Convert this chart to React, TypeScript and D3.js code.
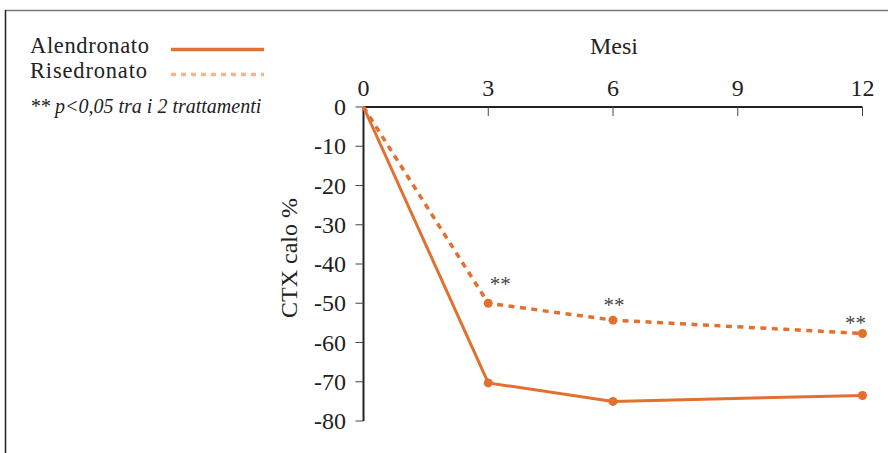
import React from "react";
import * as d3 from "d3";

const months = [0, 3, 6, 12];
const alendronato = [0, -70.3, -75, -73.5];
const risedronato = [0, -50, -54.3, -57.7];
const xTicks = [0, 3, 6, 9, 12];
const yTicks = [0, -10, -20, -30, -40, -50, -60, -70, -80];
const sigMonths = [3, 6, 12];

const ORANGE = "#e2702f";
const FONT = "'Liberation Serif', 'Times New Roman', serif";

export default function App() {
  const x = d3.scaleLinear().domain([0, 12]).range([363.5, 862.5]);
  const y = d3.scaleLinear().domain([0, -80]).range([107, 421]);
  const line = d3
    .line<number>()
    .x((_, i) => x(months[i]))
    .y((d) => y(d));
  const sigOffsets: Record<number, [number, number]> = { 3: [12, -12], 6: [1, -8], 12: [-7, -3] };
  return (
    <svg width={888} height={453} style={{ position: "absolute", left: 0, top: 0, background: "#fff" }}>
      <line x1={5} y1={10.5} x2={888} y2={10.5} stroke="#777" strokeWidth={1.5} />
      <line x1={5.5} y1={10} x2={5.5} y2={453} stroke="#222" strokeWidth={1.5} />

      {/* legend */}
      <text x={30} y={53} fontFamily={FONT} fontSize={22.5} textLength={119} lengthAdjust="spacing" fill="#222">Alendronato</text>
      <text x={30} y={78} fontFamily={FONT} fontSize={22.5} textLength={117} lengthAdjust="spacing" fill="#222">Risedronato</text>
      <line x1={171} x2={264} y1={49.5} y2={49.5} stroke={ORANGE} strokeWidth={3.5} />
      <line x1={171} x2={264} y1={74.5} y2={74.5} stroke="#f3b58d" strokeWidth={3.5} strokeDasharray="5,5" />
      <text x={30} y={113} fontFamily={FONT} fontSize={20} fontStyle="italic" fill="#222">** p&lt;0,05 tra i 2 trattamenti</text>

      {/* title */}
      <text x={614} y={54} textAnchor="middle" fontFamily={FONT} fontSize={24} fill="#222">Mesi</text>

      {/* x axis */}
      <line x1={x(0)} x2={x(12)} y1={y(0)} y2={y(0)} stroke="#222" strokeWidth={2} />
      {xTicks.map((t) => (
        <g key={t}>
          {t !== 0 && <line x1={x(t)} x2={x(t)} y1={y(0)} y2={y(0) + 9} stroke="#444" strokeWidth={1} />}
          <text x={x(t)} y={96} textAnchor="middle" fontFamily={FONT} fontSize={24} fill="#222">{t}</text>
        </g>
      ))}

      {/* y axis */}
      <line x1={x(0)} x2={x(0)} y1={y(0)} y2={y(-80)} stroke="#222" strokeWidth={2} />
      {yTicks.map((t) => (
        <g key={t}>
          <line x1={x(0) - 8} x2={x(0)} y1={y(t)} y2={y(t)} stroke="#444" strokeWidth={1} />
          <text x={346} y={y(t) + 8} textAnchor="end" fontFamily={FONT} fontSize={24} fill="#222">{t}</text>
        </g>
      ))}
      <text
        transform={`translate(297,258) rotate(-90)`}
        textAnchor="middle"
        fontFamily={FONT}
        fontSize={24}
        fill="#222"
      >CTX calo %</text>

      {/* series */}
      <path d={line(alendronato) || ""} fill="none" stroke={ORANGE} strokeWidth={3} />
      <path d={line(risedronato) || ""} fill="none" stroke={ORANGE} strokeWidth={3.5} strokeDasharray="6,5.5" />
      {alendronato.slice(1).map((v, i) => (
        <circle key={"a" + i} cx={x(months[i + 1])} cy={y(v)} r={4.5} fill={ORANGE} />
      ))}
      {risedronato.slice(1).map((v, i) => (
        <circle key={"r" + i} cx={x(months[i + 1])} cy={y(v)} r={4.5} fill={ORANGE} />
      ))}

      {sigMonths.map((m) => {
        const i = months.indexOf(m);
        const [dx, dy] = sigOffsets[m];
        return (
          <text key={m} x={x(m) + dx} y={y(risedronato[i]) + dy} textAnchor="middle" fontFamily={FONT} fontSize={21} fill="#444">**</text>
        );
      })}
    </svg>
  );
}
